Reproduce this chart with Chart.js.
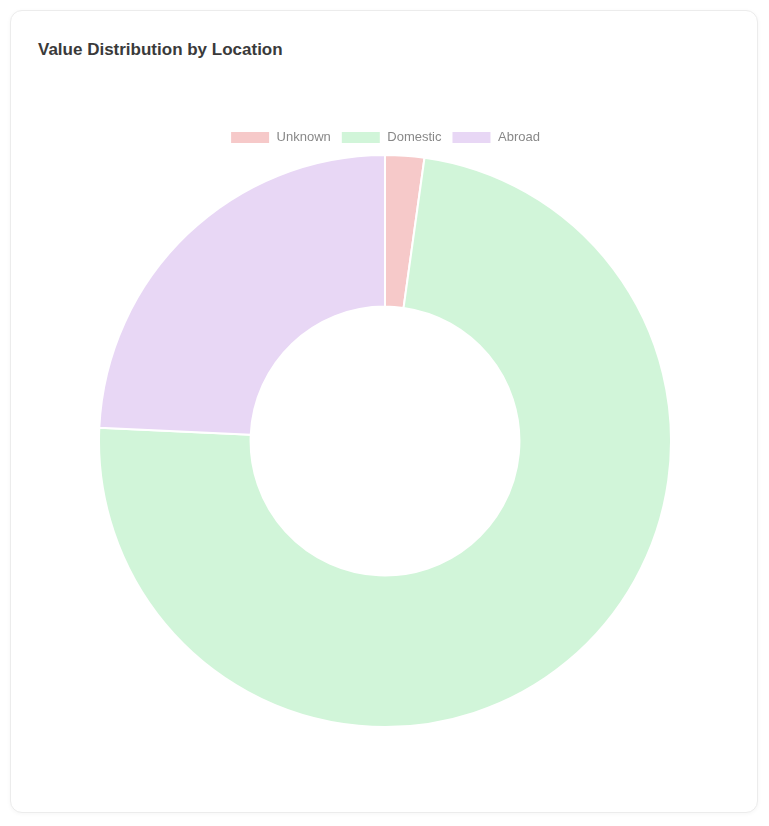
<!DOCTYPE html>
<html>
<head>
<meta charset="utf-8">
<script src="https://cdn.jsdelivr.net/npm/chart.js@4.4.0/dist/chart.umd.min.js"></script>
<style>
  html, body { margin: 0; padding: 0; background: #ffffff; }
  body { width: 769px; height: 826px; position: relative; overflow: hidden; font-family: "Helvetica Neue", Helvetica, Arial, "Liberation Sans", sans-serif; }
  .card { position: absolute; left: 10px; top: 10px; width: 746px; height: 801px; border: 1px solid #ececec; border-radius: 12px; background: #fff; box-shadow: 0 1px 4px rgba(0,0,0,0.04); }
  .title { position: absolute; left: 38px; top: 40px; font-size: 17px; font-weight: bold; color: #3a3a3a; }
  .wrap { position: absolute; left: 30px; top: 121px; width: 710px; height: 607px; }
</style>
</head>
<body>
<div class="card"></div>
<div class="title">Value Distribution by Location</div>
<div class="wrap"><canvas id="c"></canvas></div>
<script>
const categories = ["Unknown", "Domestic", "Abroad"];
const values = [3, 100, 33];
const colors = ["#f6c9c9", "#d1f5d9", "#e8d7f5"];

new Chart(document.getElementById('c'), {
  type: 'doughnut',
  data: {
    labels: categories,
    datasets: [{
      data: values,
      backgroundColor: colors,
      borderColor: '#ffffff',
      borderWidth: 2
    }]
  },
  options: {
    responsive: true,
    maintainAspectRatio: false,
    animation: false,
    cutout: '47%',
    plugins: {
      legend: {
        position: 'top',
        labels: { color: '#888', font: { size: 13 } }
      },
      tooltip: { enabled: false }
    }
  }
});
</script>
</body>
</html>
